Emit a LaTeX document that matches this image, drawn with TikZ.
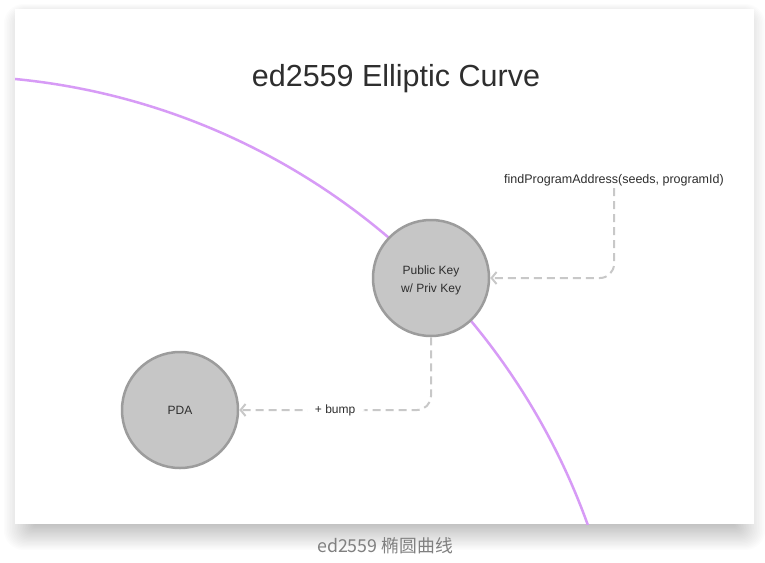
\documentclass[tikz,border=0pt]{standalone}
\usepackage{fontspec}
\setmainfont{Liberation Sans}
\newfontfamily\cjk{Noto Sans CJK SC}
\usetikzlibrary{arrows.meta}
\definecolor{curvec}{HTML}{D79BF6}
\definecolor{dotfill}{HTML}{C6C6C6}
\definecolor{dotline}{HTML}{9C9C9C}
\definecolor{connc}{HTML}{C8C8C8}
\definecolor{txt}{HTML}{2E2E2E}
\tikzset{
  dot/.style={circle, draw=dotline, fill=dotfill, line width=2.5pt, minimum size=116pt, inner sep=0pt, align=center, text=txt, font=\fontsize{12}{18}\selectfont},
  lbl/.style={text=txt, font=\fontsize{12.5}{15}\selectfont, inner sep=2pt},
  conn/.style={draw=connc, line width=2pt, dash pattern=on 8pt off 5pt, rounded corners=14pt, -{Straight Barb[length=5pt,width=12pt,line width=2pt]}},
  curveline/.style={draw=curvec, line width=2.5pt},
  ttl/.style={text=txt, font=\fontsize{30.5}{34}\selectfont},
  captext/.style={text=black!50, font=\cjk\fontsize{17.8}{20}\selectfont},
  shadowlayer/.style={fill=black, fill opacity=0.011, rounded corners=#1}
}
\begin{document}
\begin{tikzpicture}[x=1pt,y=-1pt]
\useasboundingbox (0,0) rectangle (765,562);
\fill[white] (0,0) rectangle (765,562);
\foreach \i in {1,...,20} {
  \fill[shadowlayer=\i pt] ({15-(\i-13)*1.6},{9-(\i-15)*1.0}) rectangle ({754+(\i-13)*1.6},{524+\i*1.3});
}
\fill[white] (15,9) rectangle (754,524);
\begin{scope}
  \clip (15,9) rectangle (754,524);
  \draw[curveline] (-51.3,754.8) circle[radius=679];
\end{scope}
\node[ttl] (title) at (396,79) {ed2559 Elliptic Curve};
\node[dot] (pk) at (431,278) {\rule{0pt}{14pt}Public Key\\w/ Priv Key};
\node[dot] (pda) at (180,410) {PDA};
\node[lbl] (fpa) at (614,180) {findProgramAddress(seeds, programId)};
\draw[conn] (fpa.south) |- (pk.east);
\draw[conn] (pk.south) |- node[pos=0.75, fill=white, text=txt, font=\fontsize{12}{14}\selectfont, inner xsep=9pt] (bump) {+ bump} (pda.east);
\node[captext] (caption) at (385,546) {ed2559 椭圆曲线};
\end{tikzpicture}
\end{document}
